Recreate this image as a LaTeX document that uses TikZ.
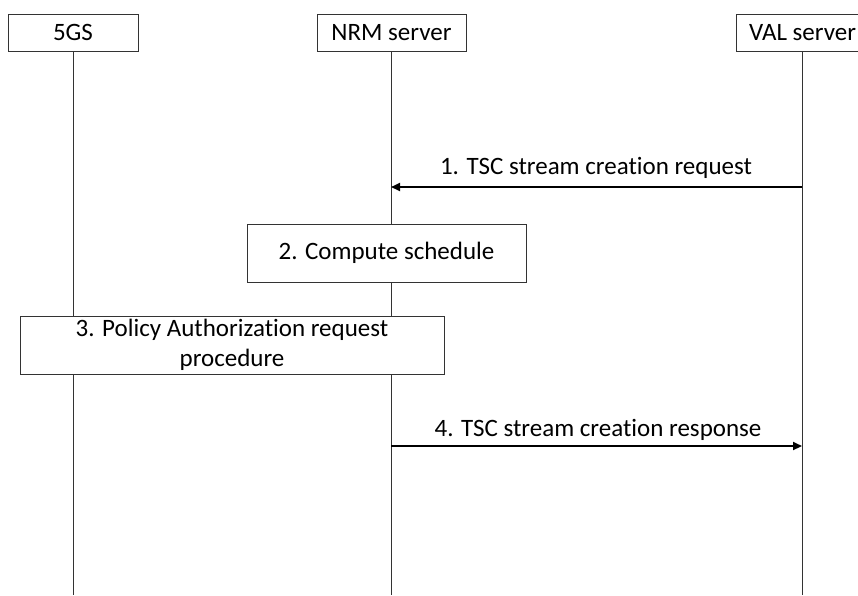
\documentclass[tikz,border=0pt]{standalone}
\usepackage{fontspec}
\setmainfont[Ligatures={NoCommon}]{Carlito}
\usetikzlibrary{arrows.meta}
\begin{document}
\begin{tikzpicture}[x=1pt,y=-1pt,
  box/.style={draw=black!80,line width=1pt,fill=white,inner sep=0pt,font=\fontsize{25}{30}\selectfont},
  lbl/.style={font=\fontsize{25}{30}\selectfont,inner sep=0pt},
  life/.style={draw=black!80,line width=1pt},
  msg/.style={draw=black,line width=2pt,-{Triangle[length=9pt,width=8pt]}}]
\useasboundingbox (0,0) rectangle (858,595);
\fill[white] (0,0) rectangle (858,595);
% lifelines
\coordinate (g5) at (73,51);
\coordinate (g5b) at (73,595);
\coordinate (nrm) at (391,51);
\coordinate (nrmb) at (391,595);
\coordinate (val) at (802,51);
\coordinate (valb) at (802,595);
\draw[life] (g5) -- (g5b);
\draw[life] (nrm) -- (nrmb);
\draw[life] (val) -- (valb);
% headers
\node[box,minimum width=130pt,minimum height=37pt] (h5gs) at (73,32.5) {5GS};
\node[box,minimum width=149pt,minimum height=37pt] (hnrm) at (391.5,32.5) {NRM server};
\node[box,minimum width=132pt,minimum height=37pt,anchor=west] (hval) at (736,32.5) {VAL server};
% messages
\coordinate (m1s) at (802,187);
\coordinate (m1e) at (391,187);
\draw[msg] (m1s) -- (m1e);
\node[lbl] (l1) at (596,168) {1. TSC stream creation request};
\node[box,minimum width=279pt,minimum height=58pt] (b2) at (386.5,253) {2. Compute schedule};
\node[box,minimum width=424pt,minimum height=58pt,align=center] (b3) at (232,345) {3. Policy Authorization request\\procedure};
\coordinate (m4s) at (391,446);
\coordinate (m4e) at (802,446);
\draw[msg] (m4s) -- (m4e);
\node[lbl] (l4) at (598,430) {4. TSC stream creation response};
\end{tikzpicture}
\end{document}
